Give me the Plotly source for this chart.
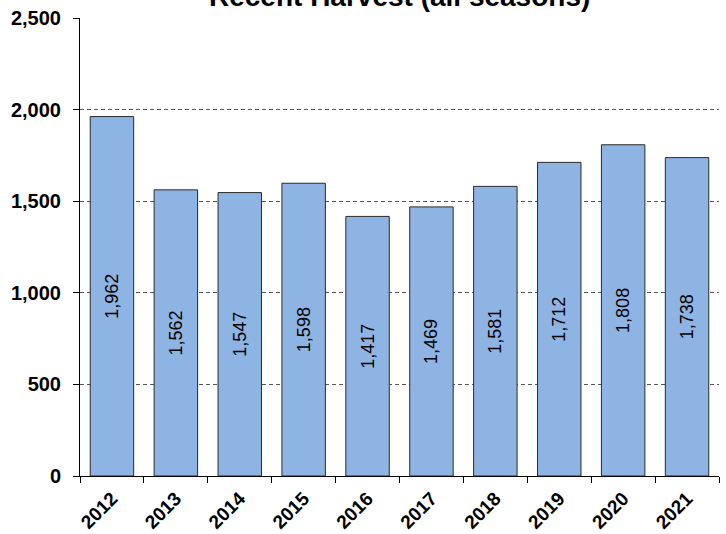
import plotly.graph_objects as go

years = ["2012", "2013", "2014", "2015", "2016", "2017", "2018", "2019", "2020", "2021"]
harvest = [1962, 1562, 1547, 1598, 1417, 1469, 1581, 1712, 1808, 1738]
y_ticks = [0, 500, 1000, 1500, 2000, 2500]
y_tick_labels = ["0", "500", "1,000", "1,500", "2,000", "2,500"]
title_text = "Recent Harvest (all seasons)"

FONT = "Liberation Sans, Arial, sans-serif"

fig = go.Figure()
fig.add_trace(go.Bar(
    x=years, y=harvest,
    marker=dict(color="#8EB4E3", line=dict(color="#2a2a2a", width=1)),
    text=[f"{v:,}" for v in harvest],
    textposition="inside", insidetextanchor="middle", textangle=-90,
    textfont=dict(family=FONT, size=18, color="black"),
    cliponaxis=False,
))

fig.update_layout(
    width=726, height=534,
    margin=dict(l=80, r=7, t=18, b=58),
    paper_bgcolor="white", plot_bgcolor="white",
    bargap=0.32, showlegend=False,
    uniformtext=dict(minsize=18, mode="show"),
    font=dict(family=FONT, color="black"),
    annotations=[dict(
        text=f"<b>{title_text}</b>", xref="paper", yref="paper",
        x=0.5, y=1, yanchor="bottom", xanchor="center", yshift=4,
        showarrow=False, font=dict(family=FONT, size=28, color="black"),
    )],
)
fig.update_xaxes(
    type="category", showline=True, linecolor="black", linewidth=1,
    ticks="outside", ticklen=6, tickcolor="black", tickson="boundaries",
    tickangle=-45, tickfont=dict(family=FONT, size=19, color="black"),
    ticklabelstandoff=3,
    showgrid=False, tickprefix="<b>", ticksuffix="</b>", automargin=False,
)
fig.update_yaxes(
    range=[0, 2500], tickvals=y_ticks, ticktext=[f"<b>{t}</b>" for t in y_tick_labels],
    showline=True, linecolor="black", linewidth=1,
    ticks="outside", ticklen=6, tickcolor="black",
    tickfont=dict(family=FONT, size=20, color="black"),
    ticklabelstandoff=8,
    showgrid=True, gridcolor="#555555", griddash="4px,3px", gridwidth=1,
    zeroline=False, automargin=False,
)

fig.write_html("out.html", config={"displayModeBar": False},
               post_script="document.body.style.margin='0';document.body.style.overflow='hidden';")
